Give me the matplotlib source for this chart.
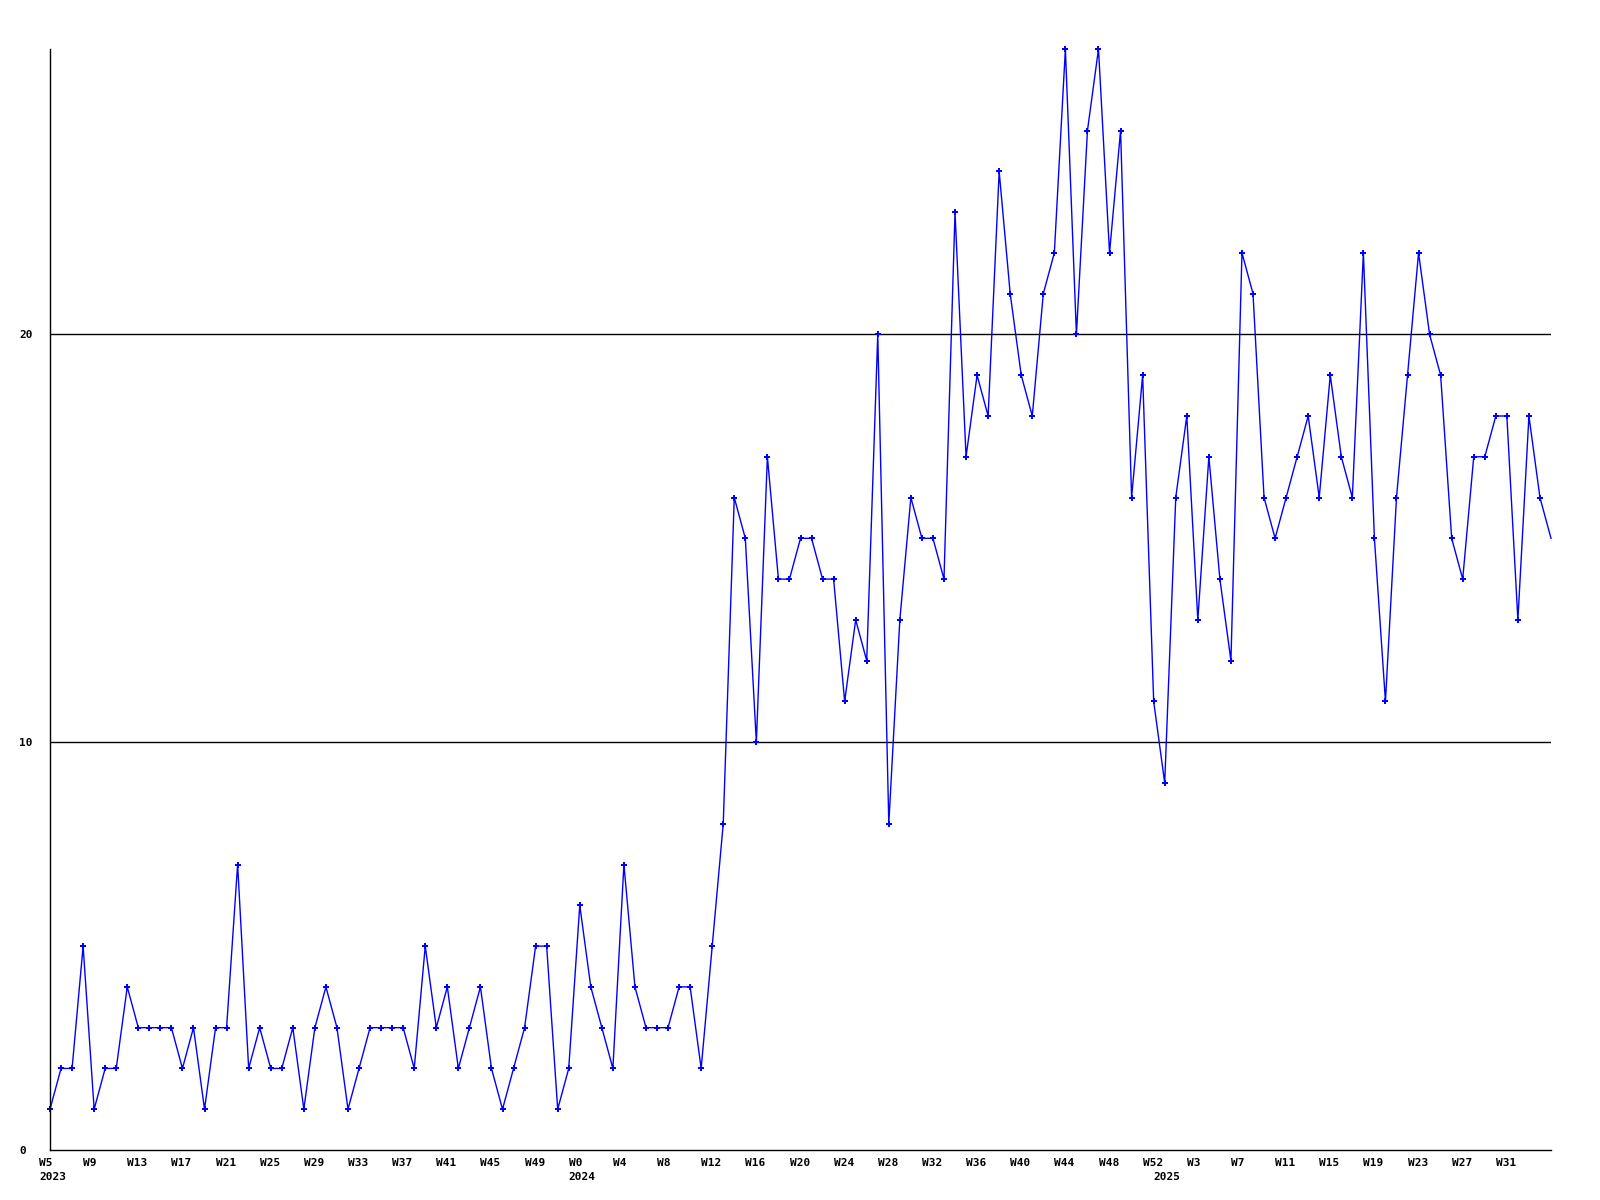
import matplotlib
matplotlib.use("Agg")
import matplotlib.pyplot as plt
from matplotlib.transforms import ScaledTranslation

# weekly counts, 2023 W5 .. 2025 W35
vals_2023 = [1, 2, 2, 5, 1, 2, 2, 4, 3, 3, 3, 3, 2, 3, 1, 3, 3, 7, 2, 3,
             2, 2, 3, 1, 3, 4, 3, 1, 2, 3, 3, 3, 3, 2, 5, 3, 4, 2, 3, 4,
             2, 1, 2, 3, 5, 5, 1, 2]
vals_2024 = [6, 4, 3, 2, 7, 4, 3, 3, 3, 4, 4, 2, 5, 8, 16, 15, 10, 17, 14, 14,
             15, 15, 14, 14, 11, 13, 12, 20, 8, 13, 16, 15, 15, 14, 23, 17, 19, 18, 24, 21,
             19, 18, 21, 22, 27, 20, 25, 27, 22, 25, 16, 19, 11]
vals_2025 = [9, 16, 18, 13, 17, 14, 12, 22, 21, 16, 15, 16, 17, 18, 16, 19, 17, 16, 22, 15,
             11, 16, 19, 22, 20, 19, 15, 14, 17, 17, 18, 18, 13, 18, 16, 15]

weeks = ([f"W{w}" for w in range(5, 53)] + [f"W{w}" for w in range(0, 53)]
         + [f"W{w}" for w in range(0, 36)])
years = ["2023", "2024", "2025"]
year_pos = [0, len(vals_2023), len(vals_2023) + len(vals_2024)]

values = vals_2023 + vals_2024 + vals_2025
x = list(range(len(values)))

plt.rcParams["font.family"] = "DejaVu Sans Mono"
plt.rcParams["font.weight"] = "bold"

fig = plt.figure(figsize=(16, 12), dpi=100)
ax = fig.add_axes([50 / 1600, 1 - 1150 / 1200, 1501 / 1600, 1101 / 1200])

ax.plot(x, values, color="#0000ff", linewidth=1.0, marker="P", markersize=4.5,
        markeredgewidth=0, markevery=slice(0, len(values) - 1), clip_on=False)

ax.set_xlim(0, len(values) - 1)
ax.set_ylim(0, 27)

for s in ["top", "right"]:
    ax.spines[s].set_visible(False)
for s in ["left", "bottom"]:
    ax.spines[s].set_linewidth(1.0)
    ax.spines[s].set_color("black")

# y ticks
ax.set_yticks([0, 10, 20])
ax.set_yticklabels(["0", "10", "20"], fontsize=8, fontweight="bold", ha="left")
ax.tick_params(axis="y", length=0, pad=22)
for yv in [10, 20]:
    ax.axhline(yv, color="black", linewidth=1.0, zorder=0)

shift = ScaledTranslation(-11 / 100, 0, fig.dpi_scale_trans)

# x ticks: every 4th week
ticks = list(range(0, len(values) - 1, 4))
ax.set_xticks(ticks)
ax.set_xticklabels([weeks[i] for i in ticks], fontsize=8, fontweight="bold", ha="left")
ax.tick_params(axis="x", length=0, pad=6)
for lab in ax.get_xticklabels():
    lab.set_transform(lab.get_transform() + shift)

# year labels on a second row
sec = ax.secondary_xaxis("bottom")
sec.spines["bottom"].set_visible(False)
sec.set_xticks(year_pos)
sec.set_xticklabels(years, fontsize=8, fontweight="bold", ha="left")
sec.tick_params(axis="x", length=0, pad=15.5)
for lab in sec.get_xticklabels():
    lab.set_transform(lab.get_transform() + shift)

fig.savefig("out.png", dpi=100)
